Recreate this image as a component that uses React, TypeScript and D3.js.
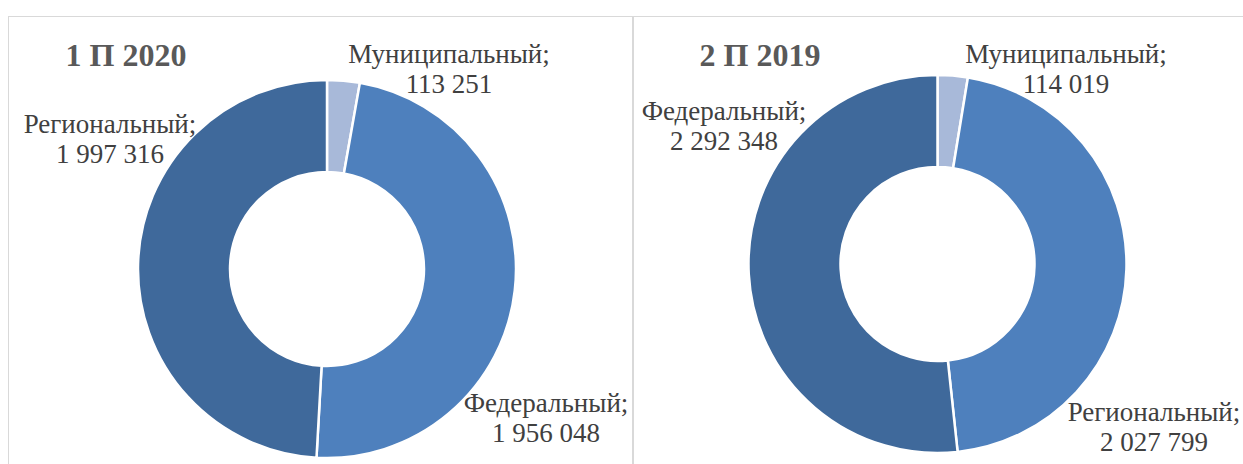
import React, { useEffect, useRef } from 'react';
import * as d3 from 'd3';

// values
const titles = ['1 П 2020', '2 П 2019'];
const categories2020 = ['Муниципальный', 'Федеральный', 'Региональный'];
const values2020 = [113251, 1956048, 1997316];
const categories2019 = ['Муниципальный', 'Региональный', 'Федеральный'];
const values2019 = [114019, 2027799, 2292348];

const colors = ['#A8B9D9', '#4E80BD', '#3F699B'];
const serif = "'Liberation Serif', 'Times New Roman', Tinos, 'DejaVu Serif', serif";

// layout of each panel (hand placed labels, like in the source)
const panels = [
  {
    box: [8.5, 16.5, 624, 470],
    cx: 327, cy: 269,
    title: [126, 66],
    labels: [[449, 63], [546, 412], [110, 133]],
  },
  {
    box: [633.5, 16.5, 640, 470],
    cx: 937.5, cy: 264,
    title: [760, 66],
    labels: [[1066, 63], [1154, 421], [724, 120]],
  },
];

const fmt = (v: number) => d3.format(',')(v).replace(/,/g, ' ');

export default function App() {
  const ref = useRef<SVGSVGElement>(null);

  useEffect(() => {
    document.body.style.margin = '0';
    const svg = d3.select(ref.current);
    svg.selectAll('*').remove();

    const datasets = [
      { cats: categories2020, vals: values2020 },
      { cats: categories2019, vals: values2019 },
    ];

    const pie = d3.pie<number>().sort(null).value(d => d);
    const arc = d3.arc<d3.PieArcDatum<number>>().innerRadius(97).outerRadius(189);

    datasets.forEach((ds, i) => {
      const p = panels[i];
      svg.append('rect')
        .attr('x', p.box[0]).attr('y', p.box[1])
        .attr('width', p.box[2]).attr('height', p.box[3])
        .attr('fill', 'none').attr('stroke', '#D9D9D9').attr('stroke-width', 1);

      const g = svg.append('g').attr('transform', `translate(${p.cx},${p.cy})`);
      g.selectAll('path')
        .data(pie(ds.vals))
        .enter().append('path')
        .attr('d', arc)
        .attr('fill', (d, j) => colors[j])
        .attr('stroke', '#fff')
        .attr('stroke-width', 2.5);

      svg.append('text')
        .attr('x', p.title[0]).attr('y', p.title[1])
        .attr('text-anchor', 'middle')
        .style('font-family', serif)
        .style('font-weight', 'bold')
        .style('font-size', '32px')
        .attr('fill', '#595959')
        .text(titles[i]);

      ds.cats.forEach((c, j) => {
        const [lx, ly] = p.labels[j];
        const t = svg.append('text')
          .attr('x', lx).attr('y', ly)
          .attr('text-anchor', 'middle')
          .style('font-family', serif)
          .style('font-size', '27px')
          .attr('fill', '#404040');
        t.append('tspan').attr('x', lx).text(c + ';');
        t.append('tspan').attr('x', lx).attr('dy', 29.5).text(fmt(ds.vals[j]));
      });
    });
  }, []);

  return (
    <svg ref={ref} width={1243} height={464}
      style={{ display: 'block', background: '#fff' }} />
  );
}
